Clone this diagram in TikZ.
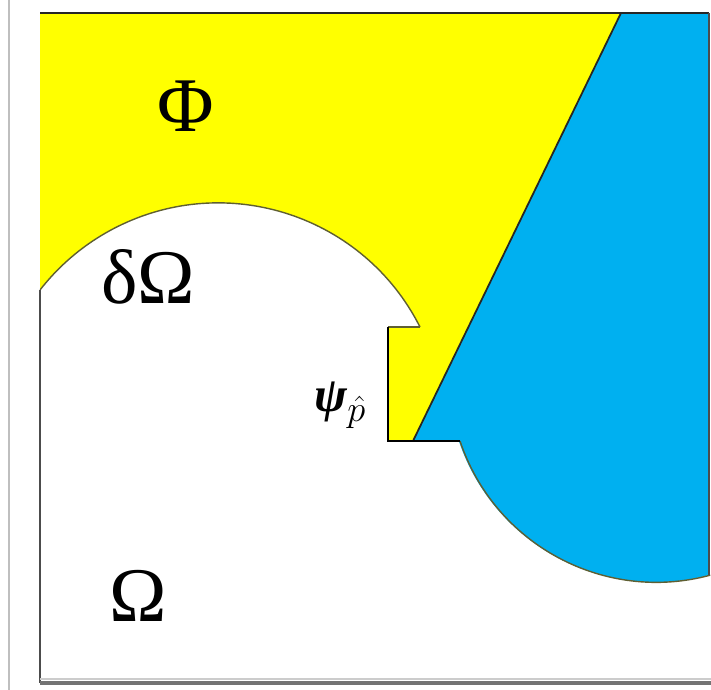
\documentclass[tikz,border=0pt]{standalone}
\usepackage{fontspec}
\setmainfont{Liberation Serif}
\usetikzlibrary{positioning}
\definecolor{regionyellow}{RGB}{255,255,0}
\definecolor{regionblue}{RGB}{0,176,240}
\definecolor{edgeolive}{RGB}{95,95,50}

\begin{document}
\begin{tikzpicture}[x=0.02cm,y=-0.02cm,
			edge/.style={draw=edgeolive,line width=0.8pt},
			step line/.style={draw=black,line width=1.3pt},
			frame line/.style={draw=black!70,line width=1.2pt},
			every node/.style={
				inner sep=0pt,
				font=\fontsize{44}{48}\selectfont
			}]
			
			\useasboundingbox (0,0) rectangle (711,690);
			
			\draw[black!25,line width=1pt](9,0)--(9,690);
			
			\coordinate (tl) at (40,13);
			\coordinate (tr) at (709,13);
			\coordinate (bl) at (40,683);
			\coordinate (br) at (711,683);
			\coordinate (slanttop) at (621,13);
			\coordinate (slantfoot) at (413,441);
			\coordinate (stepfoot) at (388,441);
			\coordinate (steptop) at (388,327);
			\coordinate (arcstart) at (420,327);
			\coordinate (bluefoot) at (460,441);
			
			% yellow region
			\fill[regionyellow](tl)--(slanttop)--(slantfoot)--(stepfoot)--(steptop)--(arcstart)
				arc[start angle=-26.8,end angle=-142,radius=226]--cycle;
			
			% blue region
			\fill[regionblue](slanttop)--(tr)--(709,575)
				arc[start angle=74.9,end angle=161.5,radius=207]--(slantfoot)--cycle;
			
			\draw[edge](arcstart) arc[start angle=-26.8,end angle=-142,radius=226];
			\draw[edge](bluefoot) arc[start angle=161.5,end angle=74.9,radius=207];
			\draw[edge](steptop)--(arcstart);
			\draw[black!85,line width=1pt](slanttop)--(slantfoot);
			
			\draw[step line](steptop)--(stepfoot)--(bluefoot);
			
			\draw[frame line](40,290)--(bl);
			\draw[black!20,line width=1.2pt](40,679)--(711,679);
			\draw[black!55,line width=2pt](bl)--(br);
			\draw[black!85,line width=1.5pt](tl)--(tr);
			\draw[black!70,line width=0.8pt](tr)--(709,575);
			
			\node (phi) at (186,106){Φ};
			
			\node (boundary) at (148,277){δΩ};
			
			\node (domain) at (138,596){Ω};
			
			\node (psi) at (340,405){\fontsize{28}{30}\selectfont\bfseries\itshape ψ\raisebox{-0.45ex}{\fontsize{21}{22}\selectfont$\hat{p}$}};
			
		\end{tikzpicture}
\end{document}
